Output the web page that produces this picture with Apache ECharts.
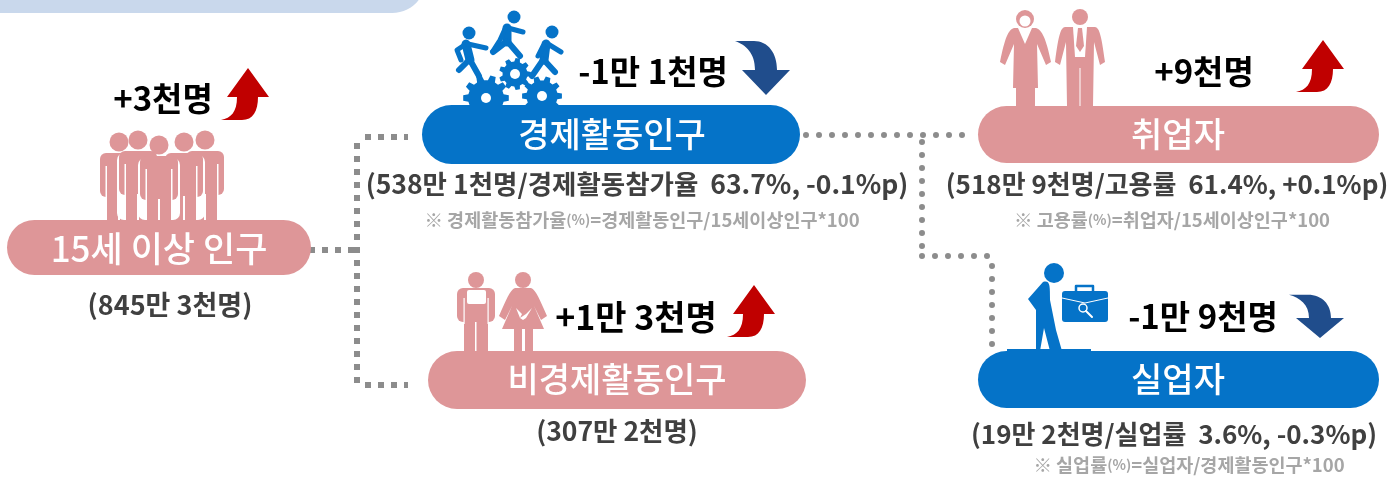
<!DOCTYPE html>
<html>
<head>
<meta charset="utf-8">
<style>html,body{margin:0;padding:0;background:#fff}#chart{width:1392px;height:478px}</style>
<script src="https://cdn.jsdelivr.net/npm/echarts@6/dist/echarts.min.js"></script>
</head>
<body>
<div id="chart"></div>
<script>
var categories = ['15세 이상 인구', '경제활동인구', '비경제활동인구', '취업자', '실업자'];
var changes = ['+3천명', '-1만 1천명', '+1만 3천명', '+9천명', '-1만 9천명'];
var details = ['(845만 3천명)', '(538만 1천명/경제활동참가율  63.7%, -0.1%p)', '(307만 2천명)', '(518만 9천명/고용률  61.4%, +0.1%p)', '(19만 2천명/실업률  3.6%, -0.3%p)'];
var notes = ['', '※ 경제활동참가율(%)=경제활동인구/15세이상인구*100', '', '※ 고용률(%)=취업자/15세이상인구*100', '※ 실업률(%)=실업자/경제활동인구*100'];

var PINK = '#DE9698', BLUE = '#0573C8', NAVY = '#204D8C', RED = '#C00000', DOT = '#8C8C8C';
var FONT = '"Noto Sans CJK KR", "Noto Sans", sans-serif';
var items = [];
var pathCount = 0;

function txt(s, x, y, size, color, weight) {
    var style = {text: s, x: x, y: y, fill: color, align: 'center', verticalAlign: 'middle',
        font: (weight || 700) + ' ' + size + 'px ' + FONT};
    items.push({type: 'text', z: 5, style: style});
}

/* 주석: (%) 부분만 작은 글씨 */
function noteTxt(s, x, y) {
    items.push({type: 'text', z: 5, style: {
        text: s.replace('(%)', '{s|(%)}'), x: x, y: y, fill: '#A6A6A6', align: 'center', verticalAlign: 'middle',
        font: '700 18.5px ' + FONT,
        rich: {s: {font: '700 14px ' + FONT, fill: '#A6A6A6'}}
    }});
}

function pill(x0, y0, x1, y1, color) {
    items.push({type: 'rect', z: 3, shape: {x: x0, y: y0, width: x1 - x0, height: y1 - y0, r: (y1 - y0) / 2}, style: {fill: color}});
}

function line(pts, width, color, z, dash, cap) {
    items.push({type: 'polyline', z: z || 2, shape: {points: pts},
        style: {stroke: color, lineWidth: width, lineDash: dash, lineCap: cap || 'round', lineJoin: 'round', fill: null}});
}

function circle(cx, cy, r, color, z) {
    items.push({type: 'circle', z: z || 2, shape: {cx: cx, cy: cy, r: r}, style: {fill: color}});
}

function box(x, y, w, h, r, color, z) {
    items.push({type: 'rect', z: z || 2, shape: {x: x, y: y, width: w, height: h, r: r}, style: {fill: color}});
}

/* graphic 에는 path 타입이 없어서 등록해서 사용 */
function shape(d, color, z, x, y, sy) {
    var name = 'svgShape' + (pathCount++);
    echarts.graphic.registerShape(name, echarts.graphic.extendPath(d, {}));
    items.push({type: name, z: z || 2, x: x || 0, y: y || 0, scaleY: sy || 1, style: {fill: color}});
}

function upArrow(x, y) {
    shape('M0,0 L21,29 L10,29 C10,43 5,52 -6,52 L-27,52 C-17,50 -11,44 -11,29 L-21,29 Z', RED, 4, x, y);
}

function downArrow(x, y, sy) {
    shape('M0,0 L24,-25 L11,-25 C11,-42 2,-54 -12,-54 L-31,-54 C-20,-50 -11,-42 -11,-25 L-24,-25 Z', NAVY, 4, x, y, sy);
}

/* 톱니바퀴 */
function gear(cx, cy, r, teeth, hole) {
    var d = '';
    for (var i = 0; i < teeth; i++) {
        var a = i / teeth * Math.PI * 2, w = Math.PI / teeth * 0.55;
        var p = [[r * 0.78, a - w * 1.2], [r, a - w * 0.7], [r, a + w * 0.7], [r * 0.78, a + w * 1.2]];
        for (var k = 0; k < 4; k++) {
            d += (i === 0 && k === 0 ? 'M' : 'L') + (cx + p[k][0] * Math.cos(p[k][1])).toFixed(1) + ',' + (cy + p[k][0] * Math.sin(p[k][1])).toFixed(1) + ' ';
        }
    }
    shape(d + 'Z', BLUE, 2);
    circle(cx, cy, hole, '#fff', 2);
}

/* 분홍 사람 한 명 */
function person(cx, headY, footY, outline) {
    if (outline) {
        box(cx - 21, headY + 13, 42, footY - headY - 13, 7, '#fff', 2);
    }
    circle(cx, headY, 9.5, PINK, 2);
    box(cx - 19, headY + 11, 38, 44, 6, PINK, 2);
    box(cx - 13.5, headY + 24, 1.5, 31, 0, '#fff', 2);
    box(cx + 12, headY + 24, 1.5, 31, 0, '#fff', 2);
    box(cx - 12, headY + 50, 24, footY - headY - 50, 0, PINK, 2);
    box(cx - 1, headY + 54, 2, footY - headY - 54, 0, '#fff', 2);
}

function runner(hx, hy, torso, armA, armB, legA, legB) {
    circle(hx, hy, 6.5, BLUE, 2);
    line(torso, 9, BLUE, 2);
    line(armA, 5, BLUE, 2);
    line(armB, 5, BLUE, 2);
    line(legA, 6, BLUE, 2);
    line(legB, 6, BLUE, 2);
}

/* 상단 배너 */
shape('M-5,-5 L422,-5 C416,6 405,13 392,13 L-5,13 Z', '#C9D8EC', 1);

/* 점선 연결 */
var squareDash = [6, 7], roundDash = [0, 13];
line([[309, 250], [354, 250]], 6, DOT, 1, squareDash, 'butt');
line([[357, 143], [357, 385]], 6, DOT, 1, squareDash, 'butt');
line([[365, 137], [408, 137]], 6, DOT, 1, squareDash, 'butt');
line([[365, 385], [408, 385]], 6, DOT, 1, squareDash, 'butt');
line([[806, 135], [972, 135]], 6, DOT, 1, roundDash);
line([[922, 142], [922, 250]], 6, DOT, 1, roundDash);
line([[922, 256], [990, 256]], 6, DOT, 1, roundDash);
line([[992, 266], [992, 350]], 6, DOT, 1, roundDash);

/* 15세 이상 인구 아이콘 */
person(119, 142, 220);
person(205, 140, 220);
person(138, 140, 220, true);
person(184, 142, 220, true);
person(159, 145, 220, true);

/* 경제활동인구 아이콘 */
gear(486, 98, 23, 10, 5);
gear(542, 96, 20, 10, 5);
gear(515, 74, 16, 9, 5);
runner(469, 33, [[466, 44], [470, 60]], [[468, 44], [486, 48]], [[463, 46], [457, 50], [461, 60]], [[470, 60], [479, 76]], [[469, 60], [459, 70]]);
runner(514, 17, [[507, 28], [507, 42]], [[508, 28], [523, 32]], [[505, 29], [500, 40], [493, 51]], [[508, 42], [520, 56]], [[506, 42], [493, 52]]);
runner(552, 32, [[546, 44], [544, 60]], [[548, 44], [561, 52]], [[543, 46], [538, 56]], [[544, 60], [555, 72]], [[543, 60], [532, 76]]);

/* 비경제활동인구 아이콘 */
circle(476, 280, 8, PINK);
box(457, 288, 38, 34, 6, PINK);
box(464, 320, 24, 31, 0, PINK);
box(475, 322, 1.5, 30, 0, '#fff', 2);
box(467, 290, 19, 14, 2, '#fff', 2);
box(463.5, 298, 1.2, 26, 0, '#fff', 2);
box(487.5, 298, 1.2, 26, 0, '#fff', 2);
circle(523, 280, 8, PINK);
shape('M515,288 L531,288 C536,290 540,300 547,316 L541,320 L534,306 L544,329 L502,329 L512,306 L505,320 L499,316 C506,300 510,290 515,288 Z', PINK);
box(514, 328, 8, 23, 0, PINK);
box(525, 328, 8, 23, 0, PINK);
shape('M516,308 L522,314 L520,318 L526,314 L532,308 L526,318 L523,320 L520,318 Z', '#fff');

/* 취업자 아이콘 */
circle(1025, 19, 9, PINK);
circle(1025, 21, 5.5, '#fff');
shape('M1014,28 L1036,28 C1042,30 1046,38 1051,62 L1046,65 L1037,44 L1038,88 L1013,88 L1014,44 L1005,65 L1000,62 C1005,38 1008,30 1014,28 Z', PINK);
shape('M1018,28 L1032,28 L1025,44 Z', '#fff');
box(1016, 88, 19, 18, 0, PINK);
circle(1080, 17, 8, PINK);
shape('M1065,27 L1095,27 C1099,28 1101,32 1105,62 L1100,65 L1094,42 L1093,106 L1067,106 L1066,42 L1060,65 L1055,62 C1059,32 1061,28 1065,27 Z', PINK);
shape('M1073,27 L1087,27 L1085,57 L1075,57 Z', '#fff');
shape('M1078,28 L1082,28 L1084,46 L1080,52 L1076,46 Z', PINK);
box(1079.5, 68, 1, 38, 0, '#fff');

/* 실업자 아이콘 */
circle(1054, 273, 10, BLUE);
shape('M1043,282 C1050,280 1050,285 1050,300 L1056,330 L1062,351 L1050,351 L1044,328 L1040,351 L1036,351 L1036,310 L1028,299 Z', BLUE);
box(1007, 349, 84, 3, 0, BLUE);
box(1062, 291, 46, 31, 3, BLUE);
line([[1076, 291], [1076, 286], [1093, 286], [1093, 291]], 2.5, BLUE, 2);
line([[1062, 298], [1085, 303], [1108, 298]], 1, '#fff', 3);
items.push({type: 'circle', z: 3, shape: {cx: 1083, cy: 308, r: 4}, style: {fill: 'none', stroke: '#fff', lineWidth: 1.5}});
line([[1086, 311], [1092, 317]], 2, '#fff', 3);

/* 막대 */
pill(7, 220, 311, 275, PINK);
pill(422, 105, 800, 164, BLUE);
pill(428, 351, 806, 409, PINK);
pill(978, 106, 1379, 163, PINK);
pill(978, 351, 1379, 408, BLUE);

/* 글자 */
txt(categories[0], 159, 249, 35, '#fff', 500);
txt(categories[1], 612, 134, 34, '#fff', 500);
txt(categories[2], 617, 379, 34, '#fff', 500);
txt(categories[3], 1178, 134, 34, '#fff', 500);
txt(categories[4], 1178, 379, 34, '#fff', 500);

txt(changes[0], 163, 98, 33, '#000');
txt(changes[1], 653, 71, 33, '#000');
txt(changes[2], 636, 317, 34, '#000');
txt(changes[3], 1204, 71, 33, '#000');
txt(changes[4], 1203, 316, 33, '#000');

txt(details[0], 170, 305, 27, '#404040');
txt(details[1], 637, 184, 26.5, '#404040');
txt(details[2], 617, 431, 26.5, '#404040');
txt(details[3], 1167, 184, 26, '#404040');
txt(details[4], 1174, 434, 26, '#404040');

noteTxt(notes[1], 642, 220);
noteTxt(notes[3], 1172, 220);
noteTxt(notes[4], 1189, 465);

upArrow(248, 68);
downArrow(766, 95);
upArrow(754, 285);
upArrow(1323, 40);
downArrow(1320, 338, 0.8);

var chart = echarts.init(document.getElementById('chart'));
chart.setOption({
    backgroundColor: '#fff',
    animation: false,
    graphic: {elements: items}
});
</script>
</body>
</html>
